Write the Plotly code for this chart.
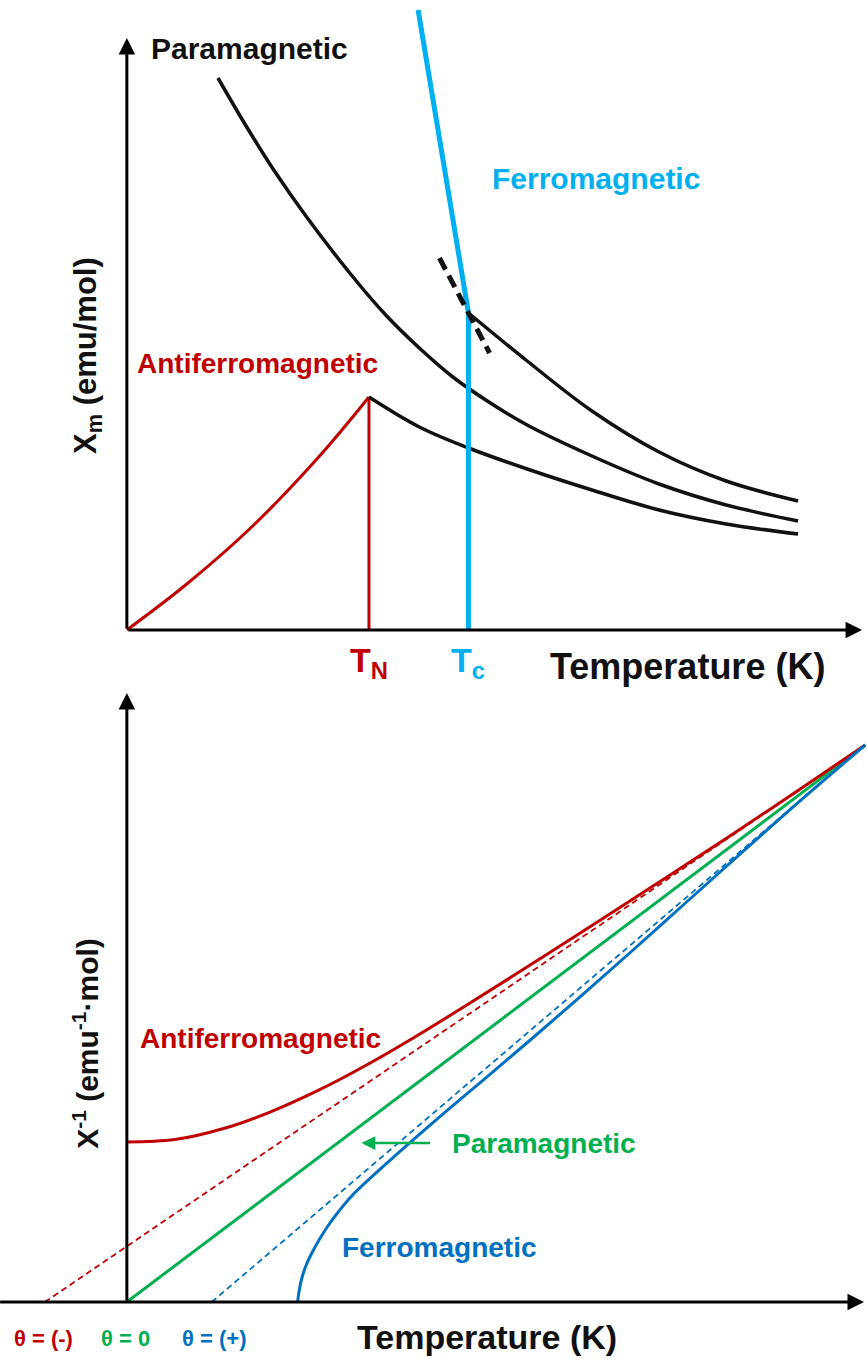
import plotly.graph_objects as go

# ---------------- upper panel: susceptibility vs temperature ----------------
T_N = 101.0
T_C = 142.5

para_T = [38, 50, 61, 75, 94, 108, 122, 136, 151, 167, 194, 222, 250, 280]
para_chi = [5.52, 5.03, 4.61, 4.13, 3.54, 3.15, 2.82, 2.53, 2.28, 2.05, 1.74, 1.46, 1.25, 1.09]

ferro_T = [142.5, 167, 194, 222, 250, 280]
ferro_chi = [3.17, 2.69, 2.19, 1.78, 1.49, 1.29]

afm_high_T = [101, 122, 142.5, 167, 194, 222, 250, 280]
afm_high_chi = [2.33, 2.03, 1.82, 1.61, 1.40, 1.20, 1.06, 0.96]

afm_low_T = [0, 25, 52.5, 80.4, 101]
afm_low_chi = [0, 0.46, 1.04, 1.74, 2.33]

ferro_rise_T = [121.5, 142.5, 142.5]
ferro_rise_chi = [6.20, 3.17, 0.0]

tangent_T = [130.4, 151.3]
tangent_chi = [3.72, 2.77]

# ---------------- lower panel: inverse susceptibility ----------------
theta_neg = -34.2
theta_pos = 35.4
T_end = 308.0
inv_end = 5.57

cw_neg_T = [theta_neg, T_end]
cw_neg_inv = [0.0, inv_end]
cw_zero_T = [0.0, T_end]
cw_zero_inv = [0.0, inv_end]
cw_pos_T = [theta_pos, T_end]
cw_pos_inv = [0.0, inv_end]

afm_inv_T = [0, 20, 40, 60, 80, 100, 120, 140, 160, 180, 200, 225, 250, 280, 308]
afm_inv = [1.600, 1.624, 1.732, 1.902, 2.118, 2.370, 2.648, 2.942, 3.244, 3.550,
           3.858, 4.246, 4.636, 5.116, 5.570]

fm_inv_T = [71.25, 71.8, 73, 75, 78.5, 83.3, 88.5, 94.2, 110, 130, 150, 170,
            190, 210, 230, 250, 280, 308]
fm_inv = [0.0, 0.10, 0.24, 0.38, 0.55, 0.74, 0.91, 1.07, 1.421, 1.841, 2.247, 2.655,
          3.071, 3.495, 3.925, 4.355, 4.994, 5.570]

RED = "#C00000"
CYAN = "#00B0F0"
GREEN = "#00B050"
BLUE = "#0070C0"
BLACK = "#111111"
FONT = "Liberation Sans, Arial, sans-serif"

fig = go.Figure()


def add_line(xs, ys, color, width, axis, dash="solid", shape="spline"):
    fig.add_trace(go.Scatter(
        x=xs, y=ys, mode="lines",
        line=dict(color=color, width=width, dash=dash, shape=shape, smoothing=1.0),
        xaxis="x" if axis == 1 else "x2",
        yaxis="y" if axis == 1 else "y2",
        hoverinfo="skip", showlegend=False,
    ))


# upper panel curves
add_line(afm_low_T, afm_low_chi, RED, 3, 1)
add_line([T_N, T_N], [0, afm_high_chi[0]], RED, 3, 1, shape="linear")
add_line(afm_high_T, afm_high_chi, BLACK, 3.5, 1)
add_line(para_T, para_chi, BLACK, 3.5, 1)
add_line(ferro_T, ferro_chi, BLACK, 3.5, 1)
add_line(ferro_rise_T, ferro_rise_chi, CYAN, 5, 1, shape="linear")
add_line(tangent_T, tangent_chi, BLACK, 5, 1, dash="13px,7px", shape="linear")

# lower panel curves
add_line(cw_neg_T, cw_neg_inv, RED, 1.8, 2, dash="6px,4px", shape="linear")
add_line(cw_pos_T, cw_pos_inv, BLUE, 1.8, 2, dash="6px,4px", shape="linear")
add_line(cw_zero_T, cw_zero_inv, GREEN, 3, 2, shape="linear")
add_line(afm_inv_T, afm_inv, RED, 3, 2)
add_line(fm_inv_T, fm_inv, BLUE, 3, 2)

annotations = []


def arrow(x0, y0, x1, y1, axis, color="black", width=3, size=1.1):
    xr = "x" if axis == 1 else "x2"
    yr = "y" if axis == 1 else "y2"
    annotations.append(dict(
        x=x1, y=y1, ax=x0, ay=y0, xref=xr, yref=yr, axref=xr, ayref=yr,
        text="", showarrow=True, arrowhead=2, arrowsize=size,
        arrowwidth=width, arrowcolor=color, standoff=0,
    ))


def label(text, x, y, axis, color, size, angle=0):
    annotations.append(dict(
        x=x, y=y, xref="x" if axis == 1 else "x2", yref="y" if axis == 1 else "y2",
        text=text, showarrow=False, textangle=angle,
        font=dict(family=FONT, size=size, color=color, weight="bold"),
        xanchor="center", yanchor="middle",
    ))


# axes drawn as arrows
arrow(0, 0, 0, 5.92, 1)
arrow(0, 0, 306.7, 0, 1)
arrow(0, 0, 0, 6.09, 2)
arrow(-53.5, 0, 307.5, 0, 2)

# paramagnetic pointer in the lower panel
arrow(127.1, 1.59, 97.9, 1.59, 2, color=GREEN, width=2.5, size=1.1)

# upper panel text
label("Paramagnetic", 51.25, 5.82, 1, BLACK, 30)
label("Ferromagnetic", 195.8, 4.52, 1, CYAN, 30)
label("Antiferromagnetic", 54.4, 2.67, 1, RED, 28)
label("T<sub>N</sub>", T_N, -0.32, 1, RED, 34)
label("T<sub>c</sub>", T_C, -0.32, 1, CYAN, 34)
label("Temperature (K)", 234.0, -0.36, 1, BLACK, 36)
label("X<sub>m</sub> (emu/mol)", -16.25, 2.75, 1, BLACK, 31, angle=-90)

# lower panel text
label("Antiferromagnetic", 55.8, 2.64, 2, RED, 28)
label("Paramagnetic", 174.2, 1.59, 2, GREEN, 28)
label("Ferromagnetic", 130.4, 0.55, 2, BLUE, 28)
label("θ = (-)", -34.6, -0.36, 2, RED, 22)
label("θ = 0", -0.4, -0.36, 2, GREEN, 22)
label("θ = (+)", 36.25, -0.36, 2, BLUE, 22)
label("Temperature (K)", 150.4, -0.35, 2, BLACK, 34)
label("X<sup>-1</sup> (emu<sup>-1</sup>·mol)", -17.1, 2.59, 2, BLACK, 30, angle=-90)

hidden = dict(visible=False, fixedrange=True)
fig.update_layout(
    width=867, height=1359,
    margin=dict(l=0, r=0, t=0, b=0),
    paper_bgcolor="white", plot_bgcolor="rgba(0,0,0,0)",
    xaxis=dict(domain=[0, 1], range=[-52.917, 308.75], anchor="y", **hidden),
    yaxis=dict(domain=[1 - 700 / 1359, 1], range=[-0.7, 6.3], anchor="x", **hidden),
    xaxis2=dict(domain=[0, 1], range=[-52.917, 308.75], anchor="y2", **hidden),
    yaxis2=dict(domain=[0, 1 - 680 / 1359], range=[-0.57, 6.22], anchor="x2", **hidden),
    annotations=annotations,
    showlegend=False,
)

fig.write_html("out.html")
